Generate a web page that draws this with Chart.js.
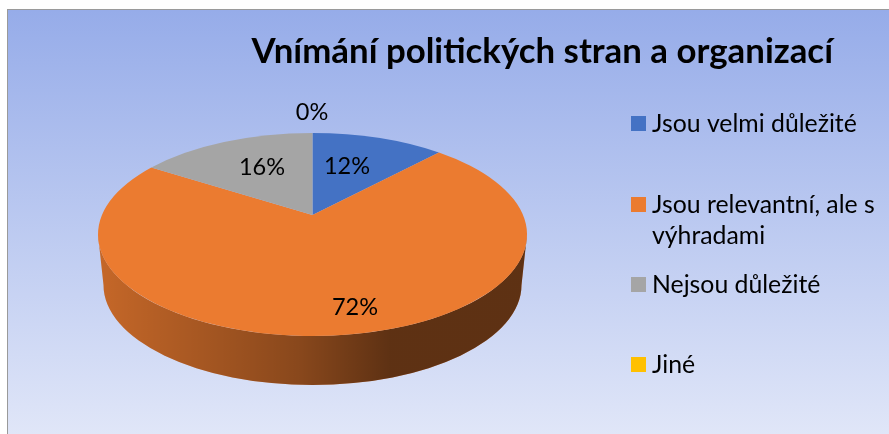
<!DOCTYPE html>
<html lang="cs">

<head>
    <meta charset="UTF-8">
    <title>Vnímání politických stran a organizací</title>
    <script src="https://cdn.jsdelivr.net/npm/chart.js"></script>
    <style>
        html, body { margin: 0; padding: 0; background: #ffffff; overflow: hidden; }
        canvas { display: block; }
    </style>
</head>

<body>
    <canvas id="pieChart" width="889" height="434"></canvas>
    <script>
        const chartTitle = 'Vnímání politických stran a organizací';
        const categories = ['Jsou velmi důležité', 'Jsou relevantní, ale s výhradami', 'Nejsou důležité', 'Jiné'];
        const legendLines = [['Jsou velmi důležité'], ['Jsou relevantní, ale s', 'výhradami'], ['Nejsou důležité'], ['Jiné']];
        const shares = [12, 72, 16, 0];
        const sliceColors = ['#4472c4', '#eb7b30', '#a5a5a5', '#ffc000'];

        // Layout of the tilted pie, measured on the reference
        const pie = { cx: 312.5, cy: 234.5, rx: 214.5, ry: 101.5, e: 0.192 };
        const base = { cy: 285, rx: 209, ry: 100 };
        const panel = { left: 8, top: 10 };
        const labelSpots = [[347, 166], [355, 307], [262, 167], [312, 112]];
        const legendRows = [123.5, 204.5, 284.5, 364.5];
        const labelFont = '23.5px Lato';
        const legendFont = '24.8px Lato';

        // Perspective: the apex sits above the ellipse centre, so angles get squeezed towards the back
        function screenAngle(a) {
            const t = a + Math.PI / 2;
            const d = 1 + pie.e * Math.cos(t);
            const x = Math.sin(t) * Math.sqrt(1 - pie.e * pie.e) / d;
            const y = (Math.cos(t) + pie.e) / d;
            return Math.atan2(-y, x);
        }

        // Keeps phi2 after phi1 so that ctx.ellipse goes clockwise the right way
        function unwrap(phi1, phi2) {
            while (phi2 < phi1) phi2 += Math.PI * 2;
            return phi2;
        }

        const tiltedPie = {
            id: 'tiltedPie',
            beforeDraw(chart) {
                const { ctx, width, height } = chart;
                const bg = ctx.createLinearGradient(0, panel.top, 0, height);
                bg.addColorStop(0, '#96ace9');
                bg.addColorStop(1, '#e0e6f8');
                ctx.fillStyle = '#ffffff';
                ctx.fillRect(0, 0, width, height);
                ctx.fillStyle = '#9a9a9a';
                ctx.fillRect(panel.left - 1, panel.top - 1, width, height);
                ctx.fillStyle = bg;
                ctx.fillRect(panel.left, panel.top, width, height);
            },
            beforeDatasetsDraw(chart) {
                const { ctx } = chart;
                const arcs = chart.getDatasetMeta(0).data;

                // side wall, only the front half of the ellipse can be seen
                arcs.forEach((arc, i) => {
                    if (arc.endAngle - arc.startAngle <= 0) return;
                    const from = screenAngle(arc.startAngle);
                    const to = unwrap(from, screenAngle(arc.endAngle));
                    const a = Math.max(from, 0);
                    const b = Math.min(to, Math.PI);
                    if (b <= a) return;
                    const wall = new Path2D();
                    wall.ellipse(pie.cx, pie.cy, pie.rx, pie.ry, 0, a, b, false);
                    wall.ellipse(pie.cx, base.cy, base.rx, base.ry, 0, b, a, true);
                    wall.closePath();
                    ctx.fillStyle = sliceColors[i];
                    ctx.fill(wall);
                    const shade = ctx.createLinearGradient(pie.cx - pie.rx, 0, pie.cx + pie.rx, 0);
                    shade.addColorStop(0, 'rgba(0,0,0,0.16)');
                    shade.addColorStop(0.47, 'rgba(0,0,0,0.42)');
                    shade.addColorStop(0.68, 'rgba(0,0,0,0.60)');
                    shade.addColorStop(1, 'rgba(0,0,0,0.60)');
                    ctx.fillStyle = shade;
                    ctx.fill(wall);
                });

                // top face
                arcs.forEach((arc, i) => {
                    if (arc.endAngle - arc.startAngle <= 0) return;
                    const from = screenAngle(arc.startAngle);
                    const to = unwrap(from, screenAngle(arc.endAngle));
                    ctx.beginPath();
                    ctx.moveTo(pie.cx, pie.cy - pie.e * pie.ry);
                    ctx.ellipse(pie.cx, pie.cy, pie.rx, pie.ry, 0, from, to, false);
                    ctx.closePath();
                    ctx.fillStyle = sliceColors[i];
                    ctx.fill();
                });
                return false;
            },
            afterDraw(chart) {
                const { ctx } = chart;
                ctx.save();
                ctx.fillStyle = '#000000';
                ctx.textBaseline = 'middle';

                ctx.font = labelFont;
                ctx.textAlign = 'center';
                shares.forEach((v, i) => {
                    ctx.fillText(v + '%', labelSpots[i][0], labelSpots[i][1]);
                });

                ctx.font = legendFont;
                ctx.textAlign = 'left';
                legendLines.forEach((lines, i) => {
                    ctx.fillStyle = sliceColors[i];
                    ctx.fillRect(631, legendRows[i] - 7.5, 15, 15);
                    ctx.fillStyle = '#000000';
                    lines.forEach((line, n) => {
                        ctx.fillText(line, 652, legendRows[i] + 1 + n * 31);
                    });
                });
                ctx.restore();
            }
        };

        new Chart(document.getElementById('pieChart'), {
            type: 'pie',
            data: {
                labels: categories,
                datasets: [{ data: shares, backgroundColor: sliceColors, borderWidth: 0 }]
            },
            options: {
                responsive: false,
                animation: false,
                layout: { padding: { right: 56 } },
                plugins: {
                    legend: { display: false },
                    tooltip: { enabled: false },
                    title: {
                        display: true,
                        text: chartTitle,
                        align: 'end',
                        color: '#000000',
                        font: { family: 'Lato', size: 34.8, weight: 'bold' },
                        padding: { top: 31, bottom: 10 }
                    }
                }
            },
            plugins: [tiltedPie]
        });
    </script>
</body>

</html>
